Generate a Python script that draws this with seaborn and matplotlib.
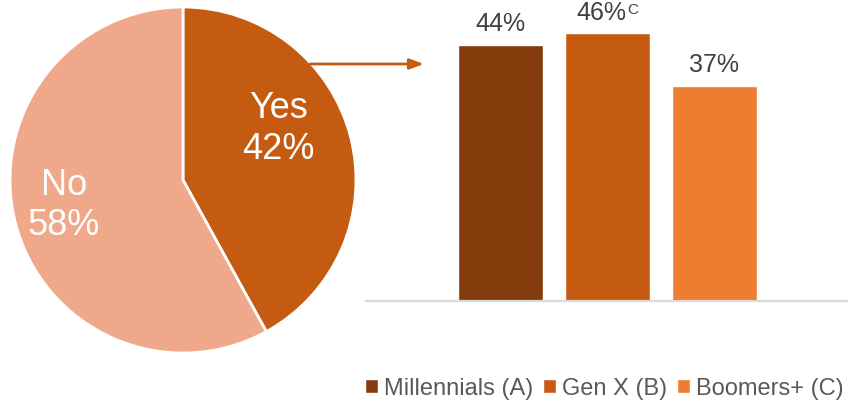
import matplotlib
matplotlib.use("Agg")
import matplotlib.pyplot as plt
import seaborn as sns
import pandas as pd

# Survey split (pie) and breakdown by generation (bars)
answers = ["Yes", "No"]
answer_shares = [42, 58]
answer_colors = ["#C55A11", "#F0A88A"]

cohorts = ["Millennials (A)", "Gen X (B)", "Boomers+ (C)"]
cohort_pcts = [44, 46, 37]
cohort_labels = ["44%", "46%", "37%"]
cohort_sig = ["", "C", ""]
cohort_colors = ["#843C0C", "#C55A11", "#ED7D31"]

sns.set_theme(style="white")
plt.rcParams["font.family"] = ["Liberation Sans", "DejaVu Sans"]

W, H = 848, 406
fig = plt.figure(figsize=(W / 100, H / 100), dpi=100)
fig.patch.set_facecolor("white")


def px_axes(x0, y0, x1, y1):
    return fig.add_axes([x0 / W, 1 - y1 / H, (x1 - x0) / W, (y1 - y0) / H])


# ---- pie ----
ax_pie = px_axes(10, 8, 356, 354)
ax_pie.pie(answer_shares, colors=answer_colors, startangle=90, counterclock=False,
           wedgeprops=dict(edgecolor="white", linewidth=2))
ax_pie.set_xlim(-1, 1)
ax_pie.set_ylim(-1, 1)
ax_pie.set_aspect("equal")
ax_pie.axis("off")
pie_label_pos = {"Yes": (0.55, 0.30), "No": (-0.69, -0.14)}
for name, share in zip(answers, answer_shares):
    x, y = pie_label_pos[name]
    ax_pie.text(x, y, f"{name}\n{share}%", ha="center", va="center", color="white",
                fontsize=26, linespacing=1.2)

# ---- bars ----
ax_bar = px_axes(366, 11, 848, 302)
df = pd.DataFrame({"cohort": cohorts, "pct": cohort_pcts})
sns.barplot(data=df, x="cohort", y="pct", hue="cohort", hue_order=cohorts,
            palette=cohort_colors, saturation=1, width=0.794, legend=True, ax=ax_bar)
ax_bar.set_xlim(-1.257, 3.248)
ax_bar.set_ylim(0, 50)
ax_bar.set_xlabel("")
ax_bar.set_ylabel("")
ax_bar.set_xticks([])
ax_bar.set_yticks([])
for side in ["top", "left", "right"]:
    ax_bar.spines[side].set_visible(False)
ax_bar.spines["bottom"].set_color("#D9D9D9")
ax_bar.spines["bottom"].set_linewidth(1.6)

label_pad = 7
value_texts = []
for cont, lab in zip(ax_bar.containers, cohort_labels):
    txts = ax_bar.bar_label(cont, labels=[lab], padding=label_pad, fontsize=18, color="#404040")
    value_texts.extend(txts)

handles, labels = ax_bar.get_legend_handles_labels()
if ax_bar.legend_ is not None:
    ax_bar.legend_.remove()
fig.legend(handles, labels, loc="center", bbox_to_anchor=(604.5 / W, 1 - 389 / H), ncol=3,
           frameon=False, fontsize=17, handlelength=0.55, handleheight=0.55,
           handletextpad=0.25, columnspacing=0.42, labelcolor="#595959", borderaxespad=0,
           borderpad=0)

# significance superscripts; the value label plus its superscript stay centred on the bar
fig.canvas.draw()
renderer = fig.canvas.get_renderer()
px_per_pt = fig.dpi / 72
for txt, sig in zip(value_texts, cohort_sig):
    if sig:
        sup = fig.text(0, 0, sig, transform=None, ha="left", va="top",
                       fontsize=11, color="#404040")
        sup_w = sup.get_window_extent(renderer).width + 1
        txt.xyann = (-sup_w / 2 / px_per_pt, label_pad)
        fig.canvas.draw()
        bb = txt.get_window_extent(renderer)
        sup.set_position((bb.x1 + 0.5, bb.y1 - 2))

# arrow from the "Yes" slice toward the breakdown
ax_bar.annotate("", xy=(424, H - 65), xycoords="figure pixels",
                xytext=(310, H - 65), textcoords="figure pixels",
                arrowprops=dict(arrowstyle="-|>,head_length=0.6,head_width=0.22",
                                mutation_scale=14, color="#C55A11", lw=2,
                                shrinkA=0, shrinkB=0),
                annotation_clip=False)

fig.savefig("out.png", dpi=100, facecolor="white")
